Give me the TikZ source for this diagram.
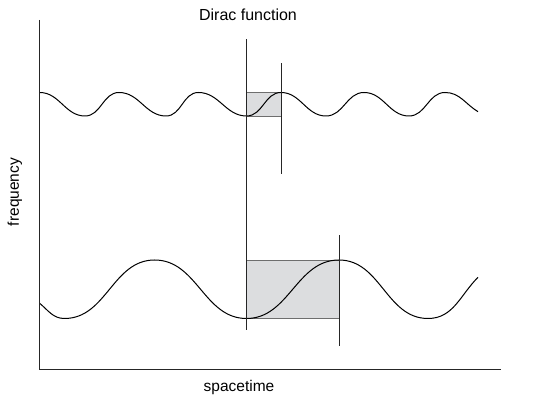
\documentclass[tikz,border=0pt]{standalone}
\usepackage{fontspec}
\setmainfont{Liberation Sans}
\usetikzlibrary{calc}

\definecolor{boxgray}{HTML}{DCDDDF}
\definecolor{edgegray}{HTML}{6E6E6E}

\tikzset{
    axisline/.style={line width=1.1pt, black!85},
    wave/.style={line width=1pt, black},
    marker/.style={line width=1pt, black!85},
    window/.style={fill=boxgray, draw=edgegray, line width=0.8pt},
    label/.style={font=\fontsize{15.5}{18}\selectfont, inner sep=0pt}
}

\begin{document}
\begin{tikzpicture}[x=1pt, y=1pt]
    \useasboundingbox (0,0) rectangle (541,398);

    % Axes
    \coordinate (O) at (39.5,28.5);
    \coordinate (Ytop) at (39.5,378);
    \coordinate (Xend) at (500.7,28.5);

    % Top wave (short period)
    \coordinate (t0) at (39.7,305.5);
    \coordinate (t1) at (85,282);
    \coordinate (t2) at (119,305.5);
    \coordinate (t3) at (166,282);
    \coordinate (t4) at (198.4,305.5);
    \coordinate (t5) at (246.5,282);
    \coordinate (t6) at (281,305.5);
    \coordinate (t7) at (326,282);
    \coordinate (t8) at (364,305.5);
    \coordinate (t9) at (409,282);
    \coordinate (t10) at (445,305.5);
    \coordinate (tend) at (478,286.3);

    % Bottom wave (long period)
    \coordinate (b0) at (39.7,94.7);
    \coordinate (b1) at (64.5,79.5);
    \coordinate (b2) at (154.6,138);
    \coordinate (b3) at (246.5,79.5);
    \coordinate (b4) at (339,138);
    \coordinate (b5) at (428,79.5);
    \coordinate (bend) at (478,120.7);

    % Windows
    \fill[window] (t5) rectangle (t6);
    \fill[window] (b3) rectangle (b4);
    \draw[window, fill=none] (t5) rectangle (t6);
    \draw[window, fill=none] (b3) rectangle (b4);

    % Waves
    \draw[wave] (t0) to[out=0,in=180] (t1) to[out=0,in=180] (t2)
        to[out=0,in=180] (t3) to[out=0,in=180] (t4)
        to[out=0,in=180] (t5) to[out=0,in=180] (t6)
        to[out=0,in=180] (t7) to[out=0,in=180] (t8)
        to[out=0,in=180] (t9) to[out=0,in=180] (t10)
        to[out=0,in=149] (tend);
    \draw[wave] (b0) to[out=-40,in=180] (b1) to[out=0,in=180] (b2)
        to[out=0,in=180] (b3) to[out=0,in=180] (b4)
        to[out=0,in=180] (b5) to[out=0,in=225] (bend);

    % Markers
    \draw[marker] (246.5,358.7) -- (246.5,68);
    \draw[marker] (281,334.7) -- (281,224);
    \draw[marker] (339,162.5) -- (339,52);

    \draw[axisline] (Ytop) -- (O) -- (Xend);

    % Labels
    \node[label, font=\fontsize{16}{19}\selectfont] (title) at (248,383) {Dirac function};
    \node[label] (xlab) at (239,11) {spacetime};
    \node[label, rotate=90] (ylab) at (15,206) {frequency};
\end{tikzpicture}
\end{document}
